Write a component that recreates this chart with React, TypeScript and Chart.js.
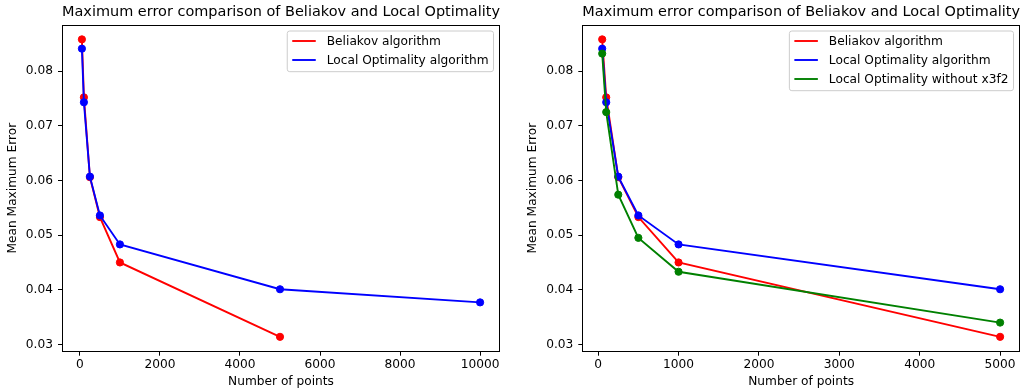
import React, { useEffect, useRef } from "react";
import { Chart, registerables } from "chart.js";

Chart.register(...registerables);

// ---------- data ----------
const nPoints = [50, 100, 250, 500, 1000, 5000, 10000];
const beliakovError = [0.0858, 0.0752, 0.0606, 0.0533, 0.045, 0.0314];
const localOptError = [0.0841, 0.0743, 0.0607, 0.0536, 0.0483, 0.0401, 0.0377];
const localOptNoX3f2Error = [0.0832, 0.0725, 0.0574, 0.0495, 0.0433, 0.034];

const yTickValues = [0.03, 0.04, 0.05, 0.06, 0.07, 0.08];
const xTicksLeft = [0, 2000, 4000, 6000, 8000, 10000];
const xTicksRight = [0, 1000, 2000, 3000, 4000, 5000];

const chartTitle = "Maximum error comparison of Beliakov and Local Optimality";
const xAxisLabel = "Number of points";
const yAxisLabel = "Mean Maximum Error";
const seriesLabels = [
  "Beliakov algorithm",
  "Local Optimality algorithm",
  "Local Optimality without x3f2",
];
const seriesColors = ["#ff0000", "#0000ff", "#008000"];

// ---------- styling ----------
const FONT = "'DejaVu Sans', 'Liberation Sans', sans-serif";
const TICK_SIZE = 12.2;
const TITLE_SIZE = 14.8;

function toXY(xs: number[], ys: number[]) {
  return ys.map((y, i) => ({ x: xs[i], y }));
}

function paddedRange(values: number[], frac = 0.05) {
  const lo = Math.min(...values);
  const hi = Math.max(...values);
  const pad = (hi - lo) * frac;
  return { min: lo - pad, max: hi + pad };
}

const frameLegendPlugin = {
  id: "frameLegend",
  afterDatasetsDraw(chart: any) {
    const { ctx, chartArea: a } = chart;
    ctx.save();
    // axes frame
    ctx.strokeStyle = "#000";
    ctx.lineWidth = 1;
    const l = Math.round(a.left) + 0.5;
    const t = Math.round(a.top) + 0.5;
    const r = Math.round(a.right) - 0.5;
    const b = Math.round(a.bottom) - 0.5;
    ctx.strokeRect(l, t, r - l, b - t);

    // legend
    const ds = chart.data.datasets;
    ctx.font = `${TICK_SIZE}px ${FONT}`;
    const textW = Math.max(...ds.map((d: any) => ctx.measureText(d.label).width));
    const boxW = 39.5 + textW + 5;
    const boxH = 19 * ds.length + 2.7;
    const right = a.right - 6.5;
    const top = a.top + 6.5;
    const left = right - boxW;
    ctx.beginPath();
    if (ctx.roundRect) ctx.roundRect(left, top, boxW, boxH, 2.5);
    else ctx.rect(left, top, boxW, boxH);
    ctx.fillStyle = "rgba(255,255,255,0.8)";
    ctx.fill();
    ctx.strokeStyle = "#cccccc";
    ctx.lineWidth = 1;
    ctx.stroke();
    ds.forEach((d: any, i: number) => {
      const y = top + 10 + 19 * i;
      ctx.beginPath();
      ctx.moveTo(left + 5, y);
      ctx.lineTo(left + 28.5, y);
      ctx.strokeStyle = d.borderColor;
      ctx.lineWidth = 1.9;
      ctx.stroke();
      ctx.fillStyle = "#000";
      ctx.textBaseline = "middle";
      ctx.textAlign = "left";
      ctx.fillText(d.label, left + 39.5, y + 0.5);
    });
    ctx.restore();
  },
};

type Series = { label: string; color: string; xs: number[]; ys: number[] };

function ErrorChart(props: {
  series: Series[];
  xTicks: number[];
  width: number;
  padLeft: number;
  padRight: number;
  yAxisWidth: number;
}) {
  const ref = useRef<HTMLCanvasElement | null>(null);
  useEffect(() => {
    const { series, xTicks, padLeft, padRight, yAxisWidth } = props;
    const allX = series.flatMap((s) => s.xs.slice(0, s.ys.length));
    const allY = series.flatMap((s) => s.ys);
    const xr = paddedRange(allX);
    const yr = paddedRange(allY);
    const tickFont = { family: FONT, size: TICK_SIZE, lineHeight: 1.2 };
    const chart = new Chart(ref.current as HTMLCanvasElement, {
      type: "line",
      data: {
        datasets: series.map((s, i) => ({
          label: s.label,
          data: toXY(s.xs, s.ys),
          borderColor: s.color,
          backgroundColor: s.color,
          pointBackgroundColor: s.color,
          pointBorderColor: s.color,
          pointRadius: 3.6,
          pointBorderWidth: 1,
          borderWidth: 1.9,
          tension: 0,
          fill: false,
          order: series.length - i,
        })),
      },
      options: {
        animation: false,
        responsive: false,
        devicePixelRatio: 1,
        layout: { padding: { left: padLeft, right: padRight, top: 0, bottom: 3 } },
        plugins: {
          legend: { display: false },
          tooltip: { enabled: false },
          title: {
            display: true,
            text: chartTitle,
            fullSize: false,
            color: "#000",
            font: { family: FONT, size: TITLE_SIZE, weight: "normal", lineHeight: 1.2 },
            padding: { top: 3.12, bottom: 3.62 },
          },
        },
        scales: {
          x: {
            type: "linear",
            min: xr.min,
            max: xr.max,
            afterFit: (s: any) => {
              s.height = 37.3;
            },
            afterBuildTicks: (s: any) => {
              s.ticks = xTicks.map((v) => ({ value: v }));
            },
            ticks: {
              autoSkip: false,
              maxRotation: 0,
              padding: 2,
              color: "#000",
              font: tickFont,
              callback: (v: any) => String(v),
            },
            grid: {
              display: true,
              drawOnChartArea: false,
              drawTicks: true,
              tickLength: 4,
              tickColor: "#000",
              lineWidth: 1,
            },
            border: { display: false },
            title: {
              display: true,
              text: xAxisLabel,
              color: "#000",
              font: tickFont,
              padding: 0,
            },
          },
          y: {
            type: "linear",
            min: yr.min,
            max: yr.max,
            afterFit: (s: any) => {
              s.width = yAxisWidth;
            },
            afterBuildTicks: (s: any) => {
              s.ticks = yTickValues.map((v) => ({ value: v }));
            },
            ticks: {
              autoSkip: false,
              padding: 5,
              color: "#000",
              font: tickFont,
              callback: (v: any) => Number(v).toFixed(2),
            },
            grid: {
              display: true,
              drawOnChartArea: false,
              drawTicks: true,
              tickLength: 4,
              tickColor: "#000",
              lineWidth: 1,
            },
            border: { display: false },
            title: {
              display: true,
              text: yAxisLabel,
              color: "#000",
              font: tickFont,
              padding: 0,
            },
          },
        },
      } as any,
      plugins: [frameLegendPlugin],
    });
    return () => chart.destroy();
  }, []);
  return (
    <canvas
      ref={ref}
      width={props.width}
      height={392}
      style={{ display: "block", width: props.width, height: 392 }}
    />
  );
}

const leftSeries: Series[] = [
  { label: seriesLabels[0], color: seriesColors[0], xs: nPoints, ys: beliakovError },
  { label: seriesLabels[1], color: seriesColors[1], xs: nPoints, ys: localOptError },
];

const rightSeries: Series[] = [
  { label: seriesLabels[0], color: seriesColors[0], xs: nPoints, ys: beliakovError },
  { label: seriesLabels[1], color: seriesColors[1], xs: nPoints, ys: localOptError.slice(0, 6) },
  { label: seriesLabels[2], color: seriesColors[2], xs: nPoints, ys: localOptNoX3f2Error },
];

export default function App() {
  return (
    <div
      style={{
        position: "absolute",
        left: 0,
        top: 0,
        width: 1027,
        height: 392,
        display: "flex",
        background: "#fff",
      }}
    >
      <ErrorChart
        series={leftSeries}
        xTicks={xTicksLeft}
        width={513}
        padLeft={6}
        padRight={13}
        yAxisWidth={56}
      />
      <ErrorChart
        series={rightSeries}
        xTicks={xTicksRight}
        width={514}
        padLeft={13}
        padRight={7}
        yAxisWidth={56.3}
      />
    </div>
  );
}
